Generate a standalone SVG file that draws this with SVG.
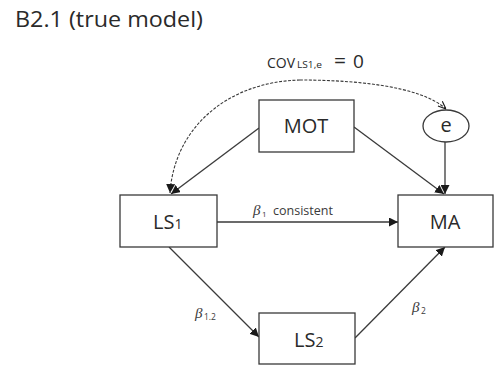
<svg xmlns="http://www.w3.org/2000/svg" width="496" height="367" viewBox="0 0 496 367">
<defs>
<style>
.box{fill:#fff;stroke:#3a3a3a;stroke-width:1.3}
.ln{fill:none;stroke:#3a3a3a;stroke-width:1.3}
.dash{fill:none;stroke:#3a3a3a;stroke-width:1.1;stroke-dasharray:3 1.5}
.t{font-family:"Open Sans","Liberation Sans",sans-serif;fill:#2a2a2a}
.lbl{font-family:"Open Sans","Liberation Sans",sans-serif;fill:#3a3a3a}
.gk{font-family:"Liberation Serif","DejaVu Serif",serif;font-style:italic;fill:#3a3a3a}
</style>
<marker id="ah" viewBox="0 0 10 10" refX="10" refY="5" markerWidth="9" markerHeight="9" markerUnits="userSpaceOnUse" orient="auto">
<path d="M0,0 L10,5 L0,10 z" fill="#1a1a1a"/>
</marker>
<marker id="ao" viewBox="0 0 10 10" refX="10" refY="5" markerWidth="8" markerHeight="8" markerUnits="userSpaceOnUse" orient="auto">
<path d="M0,1 L10,5 L0,9" fill="none" stroke="#1a1a1a" stroke-width="1.4"/>
</marker>
</defs>
<rect width="496" height="367" fill="#fff"/>
<text class="t" x="15" y="27" font-size="21" textLength="188" lengthAdjust="spacingAndGlyphs">B2.1 (true model)</text>

<g id="connectors">
<path class="dash" d="M300,80 C350,80 420,85 446,109" marker-end="url(#ao)"/>
<path class="dash" d="M300,80 C225,82 174,130 170,193" marker-end="url(#ah)"/>
<line class="ln" x1="259" y1="128" x2="171" y2="194" marker-end="url(#ah)"/>
<line class="ln" x1="354" y1="127" x2="444" y2="194" marker-end="url(#ah)"/>
<line class="ln" x1="445" y1="142" x2="445" y2="194" marker-end="url(#ah)"/>
<line class="ln" x1="217" y1="222" x2="398" y2="222" marker-end="url(#ah)"/>
<line class="ln" x1="169" y1="247" x2="259" y2="337" marker-end="url(#ah)"/>
<line class="ln" x1="355" y1="338" x2="445" y2="247" marker-end="url(#ah)"/>
<text class="t" x="267" y="68" font-size="14">COV</text>
<text class="t" x="297" y="68" font-size="9.5" textLength="25" lengthAdjust="spacingAndGlyphs">LS1,e</text>
<text class="t" x="334" y="68" font-size="21">=</text>
<text class="t" x="353" y="68" font-size="19">0</text>
<text class="gk" x="253" y="215" font-size="15">β</text>
<text class="lbl" x="262" y="217" font-size="8">1</text>
<text class="lbl" x="273" y="215" font-size="12.5" textLength="60" lengthAdjust="spacingAndGlyphs">consistent</text>
<text class="gk" x="195" y="318" font-size="15">β</text>
<text class="lbl" x="204" y="320" font-size="8.5">1.2</text>
<text class="gk" x="412" y="312" font-size="15">β</text>
<text class="lbl" x="421" y="314" font-size="8.5">2</text>
</g>

<g id="MOT">
<rect class="box" x="259" y="100" width="95" height="52"/>
<text class="t" x="306" y="133" font-size="20" text-anchor="middle">MOT</text>
</g>
<g id="e">
<ellipse class="box" cx="446" cy="126" rx="23" ry="16"/>
<text class="t" x="446" y="132" font-size="20" text-anchor="middle">e</text>
</g>
<g id="LS1">
<rect class="box" x="120" y="195" width="97" height="52"/>
<text class="t" x="153" y="229" font-size="20">LS<tspan font-size="14">1</tspan></text>
</g>
<g id="MA">
<rect class="box" x="398" y="195" width="95" height="52"/>
<text class="t" x="445" y="229" font-size="20" text-anchor="middle">MA</text>
</g>
<g id="LS2">
<rect class="box" x="259" y="313" width="96" height="51"/>
<text class="t" x="294" y="347" font-size="20">LS<tspan font-size="14">2</tspan></text>
</g>
</svg>
